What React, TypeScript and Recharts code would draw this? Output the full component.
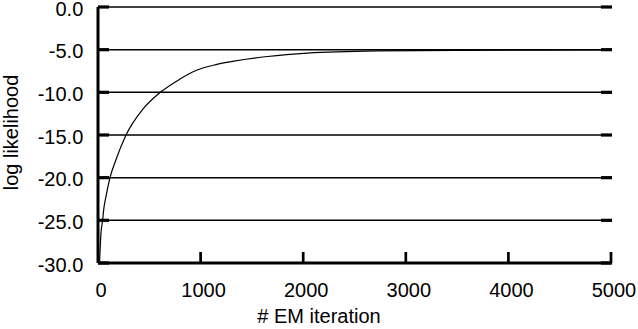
import React from 'react';
import { LineChart, Line, XAxis, YAxis, CartesianGrid } from 'recharts';

const iterations = [15, 29, 45, 55, 78, 117, 175, 273, 435, 607, 792, 954, 1150, 1324, 1652, 2042, 2723, 3500, 4200, 5000];
const logLikelihood = [-30, -26.5, -25, -23.8, -22.2, -20, -17.9, -15, -12, -10, -8.5, -7.45, -6.75, -6.35, -5.8, -5.4, -5.15, -5.08, -5.05, -5.02];
const xTicks = [0, 1000, 2000, 3000, 4000, 5000];
const yTicks = [-30, -25, -20, -15, -10, -5, 0];
const xTitle = '# EM iteration';
const yTitle = 'log likelihood';

const data = iterations.map((it, i) => ({ it, ll: logLikelihood[i] }));

const FONT = '"Liberation Sans", Arial, Helvetica, sans-serif';
const FS = 20;

const BottomTick = (props: any) => {
  const { x, y, payload } = props;
  return (
    <g>
      {payload.value !== 0 && <line x1={x} x2={x} y1={y} y2={y - 11} stroke="#000" strokeWidth={2.7} />}
      <text x={x + 3} y={y + 33.5} textAnchor="middle" fontFamily={FONT} fontSize={FS} fill="#000">
        {payload.value}
      </text>
    </g>
  );
};

const TopTick = (props: any) => {
  const { x, y, payload } = props;
  if (payload.value === 0) return <g />;
  return <line x1={x} x2={x} y1={y - 1} y2={y + 10} stroke="#000" strokeWidth={2.7} />;
};

const LeftTick = (props: any) => {
  const { x, y, payload } = props;
  return (
    <g>
      <line x1={x} x2={x + 11} y1={y} y2={y} stroke="#000" strokeWidth={3.2} />
      <text x={x - 14.7} y={y + 8.7} textAnchor="end" fontFamily={FONT} fontSize={FS} fill="#000">
        {payload.value.toFixed(1)}
      </text>
    </g>
  );
};

const RightTick = (props: any) => {
  const { x, y } = props;
  return <line x1={x + 1} x2={x - 10} y1={y} y2={y} stroke="#000" strokeWidth={3.2} />;
};

export default function App() {
  return (
    <div style={{ position: 'fixed', left: 0, top: 0, background: '#fff' }}>
      <LineChart width={638} height={329} data={data} margin={{ top: 2, right: 22, bottom: 36, left: 38 }}>
        <CartesianGrid vertical={false} stroke="#000" strokeWidth={1.5} horizontalValues={yTicks} />
        <XAxis
          dataKey="it"
          type="number"
          domain={[0, 5000]}
          ticks={xTicks}
          height={30}
          tickSize={0}
          tickMargin={0}
          tickLine={false}
          axisLine={{ stroke: '#000', strokeWidth: 3 }}
          tick={<BottomTick />}
          interval={0}
          allowDataOverflow
          label={(p: any) => {
            const vb = p.viewBox;
            return (
              <text x={319} y={vb.y + 59.5} textAnchor="middle" fontFamily={FONT} fontSize={FS} fill="#000">
                {xTitle}
              </text>
            );
          }}
        />
        <XAxis
          xAxisId="top"
          orientation="top"
          type="number"
          domain={[0, 5000]}
          ticks={xTicks}
          height={5}
          tickSize={0}
          tickMargin={0}
          tickLine={false}
          axisLine={false}
          tick={<TopTick />}
          interval={0}
          allowDataOverflow
        />
        <YAxis
          type="number"
          domain={[-30, 0]}
          ticks={yTicks}
          width={60}
          tickSize={0}
          tickMargin={0}
          tickLine={false}
          axisLine={{ stroke: '#000', strokeWidth: 3 }}
          tick={<LeftTick />}
          interval={0}
          allowDataOverflow
          label={(p: any) => {
            const vb = p.viewBox;
            const cx = 18;
            const cy = 132.5;
            return (
              <text x={cx} y={cy} transform={`rotate(-90 ${cx} ${cy})`} textAnchor="middle" fontFamily={FONT} fontSize={FS} fill="#000">
                {yTitle}
              </text>
            );
          }}
        />
        <YAxis
          yAxisId="right"
          orientation="right"
          type="number"
          domain={[-30, 0]}
          ticks={yTicks}
          width={5}
          tickSize={0}
          tickMargin={0}
          tickLine={false}
          axisLine={false}
          tick={<RightTick />}
          interval={0}
          allowDataOverflow
        />
        <Line
          dataKey="ll"
          type="monotone"
          stroke="#000"
          strokeWidth={1.2}
          dot={false}
          isAnimationActive={false}
        />
      </LineChart>
    </div>
  );
}
